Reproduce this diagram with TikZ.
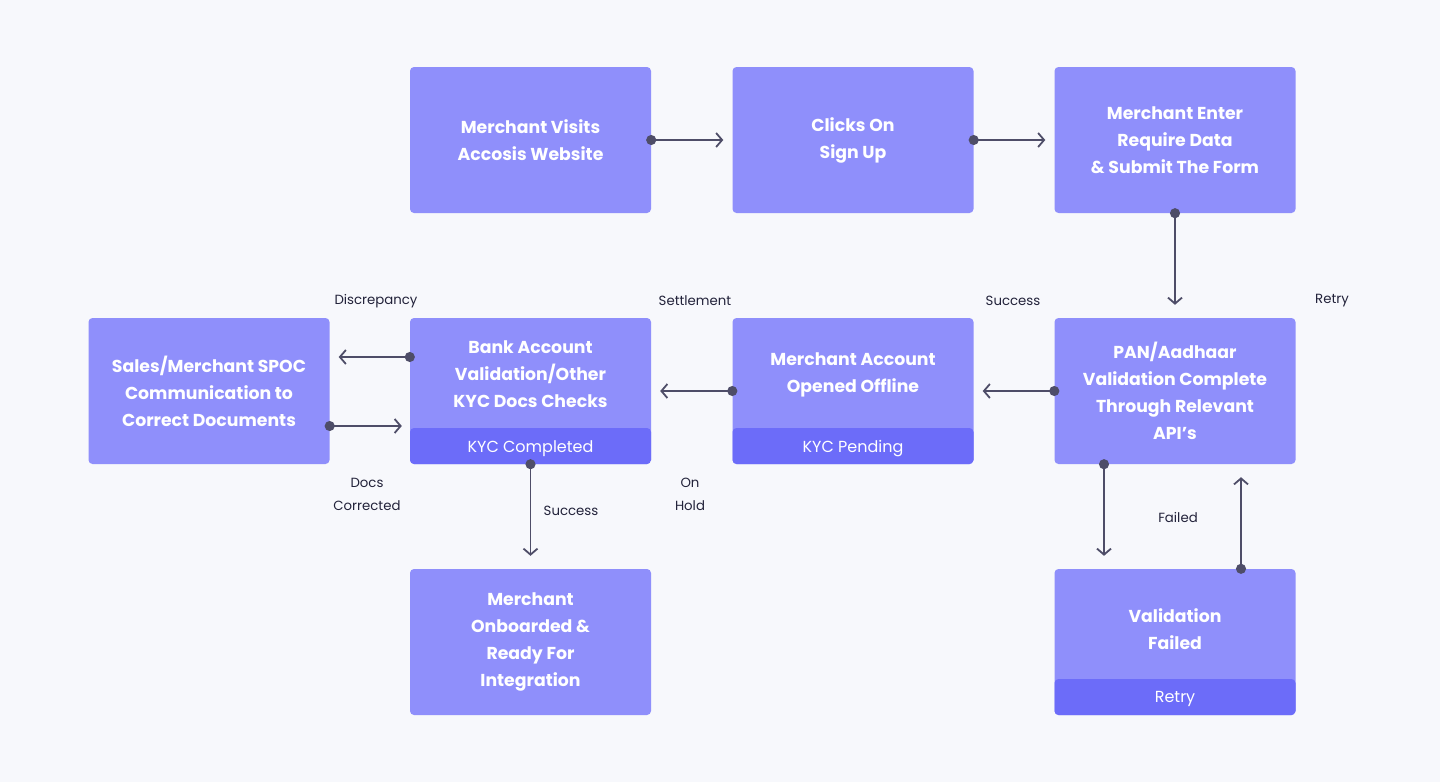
\documentclass[tikz,border=0pt]{standalone}
\usepackage{fontspec}
\setmainfont{Poppins}
\usetikzlibrary{arrows.meta}
\definecolor{pageBack}{HTML}{F7F8FC}
\definecolor{stepFill}{HTML}{8F8FFB}
\definecolor{stepBand}{HTML}{6C6CF9}
\definecolor{flowLine}{HTML}{4E4D68}
\definecolor{labelText}{HTML}{22223A}

\begin{document}
\begin{tikzpicture}[
  x=1pt,
  y=-1pt,
  stepbox/.style={
    fill=stepFill,
    rounded corners=4pt,
    minimum width=241pt,
    minimum height=146pt,
    inner sep=0pt,
    text=white,
    align=center,
    font=\fontsize{17.3}{27}\selectfont\bfseries,
  },
  banded/.style={
    path picture={
      \fill[stepBand] (path picture bounding box.south west)
        rectangle ([yshift=36pt]path picture bounding box.south east);
    },
  },
  bandtext/.style={
    text=white,
    font=\fontsize{16}{20}\selectfont,
  },
  steptext/.style={
    text=white,
    align=center,
    font=\fontsize{17.3}{27}\selectfont\bfseries,
  },
  flowlabel/.style={
    text=labelText,
    align=center,
    font=\fontsize{13.3}{23}\selectfont,
  },
  flow/.style={
    draw=flowLine,
    line width=1.8pt,
    {Circle[length=10pt]}-{Straight Barb[length=6pt,width=14pt,line width=1.8pt]},
    shorten <=-5pt,
    shorten >=9pt,
  },
  vflow/.style={
    flow,
    shorten >=13pt,
  },
]
\fill[pageBack] (0,0) rectangle (1440,782);
\useasboundingbox (0,0) rectangle (1440,782);

% first row
\node[stepbox] (visits) at (530.5,140) {Merchant Visits\\Accosis Website};
\node[stepbox] (signUp) at (853,140) {Clicks On\\Sign Up};
\node[stepbox] (submitForm) at (1175,140) {Merchant Enter\\Require Data\\\& Submit The Form};

% second row
\node[stepbox] (spoc) at (209,391) {Sales/Merchant SPOC\\Communication to\\Correct Documents};
\node[stepbox,banded] (bankCheck) at (530.5,391) {};
\node[steptext] (bankCheckText) at ([yshift=17pt]bankCheck.center) {Bank Account\\Validation/Other\\KYC Docs Checks};
\node[bandtext] (kycDone) at ([yshift=16pt]bankCheck.south) {KYC Completed};
\node[stepbox,banded] (offline) at (853,391) {};
\node[steptext] (offlineText) at ([yshift=16pt]offline.center) {Merchant Account\\Opened Offline};
\node[bandtext] (kycPending) at ([yshift=16pt]offline.south) {KYC Pending};
\node[stepbox] (panCheck) at (1175,391) {PAN/Aadhaar\\Validation Complete\\Through Relevant\\API’s};

% third row
\node[stepbox] (onboarded) at (530.5,642) {Merchant\\Onboarded \&\\Ready For\\Integration};
\node[stepbox,banded] (failed) at (1175,642) {};
\node[steptext] (failedText) at ([yshift=13pt]failed.center) {Validation\\Failed};
\node[bandtext] (retryBand) at ([yshift=16pt]failed.south) {Retry};

% connectors
\draw[flow] (visits.east) -- (signUp.west);
\draw[flow] (signUp.east) -- (submitForm.west);
\draw[vflow] (submitForm.south) -- (panCheck.north);
\draw[flow] (panCheck.west) -- (offline.east);
\draw[flow] (offline.west) -- (bankCheck.east);
\draw[flow] ([yshift=34pt]bankCheck.west) -- ([yshift=34pt]spoc.east);
\draw[flow,shorten >=8pt] ([yshift=-35pt]spoc.east) -- ([yshift=-35pt]bankCheck.west);
\draw[vflow] (bankCheck.south) -- (onboarded.north);
\draw[vflow] ([xshift=-71pt]panCheck.south) -- ([xshift=-71pt]failed.north);
\draw[vflow] ([xshift=66pt]failed.north) -- ([xshift=66pt]panCheck.south);

% labels
\node[flowlabel] (discrepancy) at (376,301) {Discrepancy};
\node[flowlabel] (settlement) at (695,301) {Settlement};
\node[flowlabel] (successTop) at (1013,301) {Success};
\node[flowlabel] (retryTop) at (1332,301) {Retry};
\node[flowlabel] (docsCorrected) at (367,494) {Docs\\Corrected};
\node[flowlabel] (onHold) at (690,494) {On\\Hold};
\node[flowlabel] (successDown) at (571,511) {Success};
\node[flowlabel] (failedLabel) at (1178,517) {Failed};
\end{tikzpicture}
\end{document}
